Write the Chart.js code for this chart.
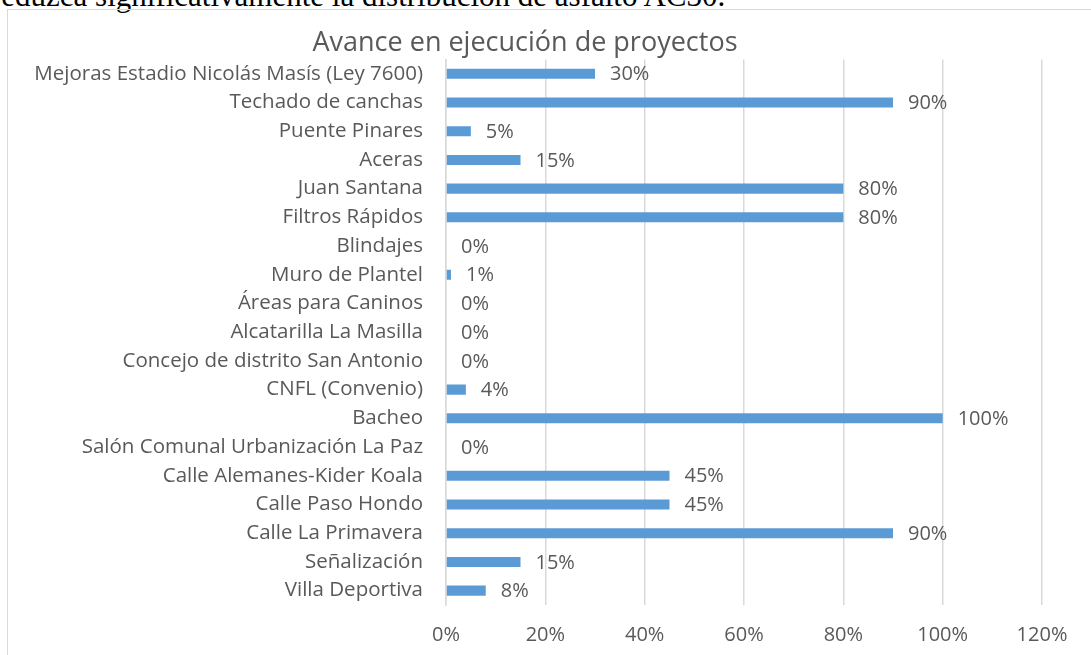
<!DOCTYPE html>
<html lang="es">
<head>
    <meta charset="UTF-8">
    <title>Avance en ejecución de proyectos</title>
    <script src="https://cdn.jsdelivr.net/npm/chart.js"></script>
    <style>
        body { margin: 0; background: #fff; width: 1091px; height: 655px; overflow: hidden; position: relative; }
        #doctext {
            position: absolute; left: -9px; top: -20px;
            font-family: "Liberation Serif", serif; font-size: 31px; line-height: 1;
            white-space: nowrap; color: #000;
        }
        #frame {
            position: absolute; left: 7px; top: 9px; width: 1100px; height: 660px;
            border: 1.5px solid #d9d9d9; box-sizing: border-box;
        }
        #wrap { position: absolute; left: 8px; top: 10px; width: 1083px; height: 645px; }
    </style>
</head>
<body>

<div id="doctext">reduzca significativamente la distribución de asfalto AC30.</div>
<div id="frame"></div>
<div id="wrap"><canvas id="avanceChart"></canvas></div>

<script>
    // datos
    const proyectos = [
        'Mejoras Estadio Nicolás Masís (Ley 7600)',
        'Techado de canchas',
        'Puente Pinares',
        'Aceras',
        'Juan Santana',
        'Filtros Rápidos',
        'Blindajes',
        'Muro de Plantel',
        'Áreas para Caninos',
        'Alcatarilla La Masilla',
        'Concejo de distrito San Antonio',
        'CNFL (Convenio)',
        'Bacheo',
        'Salón Comunal Urbanización La Paz',
        'Calle Alemanes-Kider Koala',
        'Calle Paso Hondo',
        'Calle La Primavera',
        'Señalización',
        'Villa Deportiva'
    ];
    const avance = [30, 90, 5, 15, 80, 80, 0, 1, 0, 0, 0, 4, 100, 0, 45, 45, 90, 15, 8];
    const ticksX = [0, 20, 40, 60, 80, 100, 120];

    const fuente = '"Open Sans", Lato, sans-serif';

    // etiquetas de porcentaje al final de cada barra
    const etiquetas = {
        id: 'etiquetas',
        afterDatasetsDraw(chart) {
            const ctx = chart.ctx;
            const meta = chart.getDatasetMeta(0);
            ctx.save();
            ctx.font = '20px ' + fuente;
            ctx.fillStyle = '#595959';
            ctx.textBaseline = 'middle';
            ctx.textAlign = 'left';
            meta.data.forEach((bar, i) => {
                ctx.fillText(avance[i] + '%', bar.x + 15, bar.y + 1);
            });
            ctx.restore();
        }
    };

    const ctx = document.getElementById('avanceChart').getContext('2d');
    const avanceChart = new Chart(ctx, {
        type: 'bar',
        data: {
            labels: proyectos,
            datasets: [{
                data: avance,
                backgroundColor: '#5b9bd5',
                categoryPercentage: 1,
                barPercentage: 0.35
            }]
        },
        plugins: [etiquetas],
        options: {
            indexAxis: 'y',
            responsive: true,
            maintainAspectRatio: false,
            animation: false,
            layout: { padding: { top: 17, right: 49, bottom: 0, left: 0 } },
            plugins: {
                legend: { display: false },
                tooltip: { enabled: false },
                title: {
                    display: true,
                    text: 'Avance en ejecución de proyectos',
                    color: '#595959',
                    font: { family: fuente, size: 27, weight: 'normal' },
                    padding: { top: 0, bottom: 0 }
                }
            },
            scales: {
                x: {
                    min: 0,
                    max: 120,
                    afterBuildTicks(scale) {
                        scale.ticks = ticksX.map(v => ({ value: v }));
                    },
                    afterFit(scale) { scale.height = 50; },
                    grid: { color: '#d9d9d9', lineWidth: 1.5, drawTicks: false },
                    border: { display: false },
                    ticks: {
                        padding: 18,
                        color: '#595959',
                        font: { family: fuente, size: 20 },
                        callback: v => v + '%'
                    }
                },
                y: {
                    afterFit(scale) { scale.width = 438; },
                    grid: { display: false, drawTicks: false },
                    border: { display: true, color: '#d9d9d9', width: 1.5 },
                    ticks: {
                        padding: 23,
                        autoSkip: false,
                        color: '#595959',
                        font: { family: fuente, size: 20.5 }
                    }
                }
            }
        }
    });
</script>

</body>
</html>
